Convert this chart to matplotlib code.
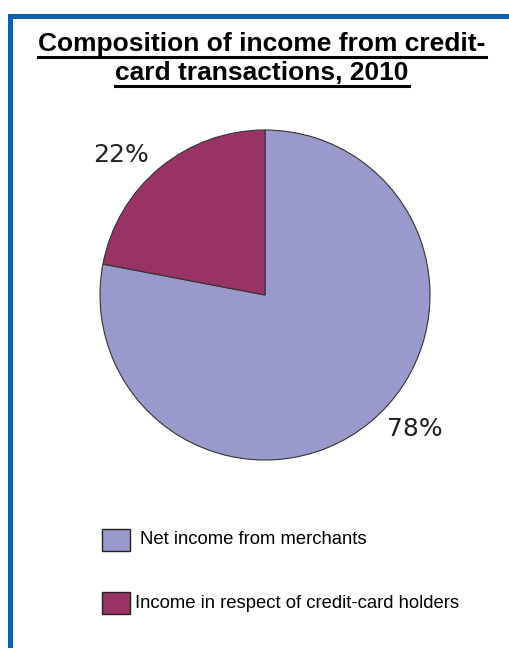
import matplotlib
matplotlib.use("Agg")
import matplotlib.pyplot as plt
from matplotlib.patches import Rectangle
from matplotlib.lines import Line2D
import numpy as np

categories = ["Net income from merchants", "Income in respect of credit-card holders"]
values = [78, 22]
pct_labels = ["78%", "22%"]
colors = ["#9999CC", "#993366"]
title_lines = ["Composition of income from credit-", "card transactions, 2010"]

W, H = 509, 648
fig = plt.figure(figsize=(W / 100, H / 100), dpi=100)
fig.patch.set_facecolor("white")

def fx(px):
    return px / W

def fy(py):
    return 1 - py / H

# blue frame (top and left)
blue = "#1060B0"
fig.add_artist(Rectangle((fx(8), fy(19)), 1 - fx(8), fy(14) - fy(19), transform=fig.transFigure,
                         facecolor=blue, edgecolor="none"))
fig.add_artist(Rectangle((fx(8), 0), fx(5), fy(14), transform=fig.transFigure,
                         facecolor=blue, edgecolor="none"))

# pie
ax = fig.add_axes([fx(100), fy(460), fx(330), 330 / H])
wedges, _ = ax.pie(values, colors=colors, startangle=90, counterclock=False,
                   wedgeprops=dict(edgecolor="#333333", linewidth=0.8))
ax.set_xlim(-1, 1)
ax.set_ylim(-1, 1)
ax.set_aspect("equal")
ax.axis("off")
label_angles = [-41.8, 135.8]
for txt, ang in zip(pct_labels, label_angles):
    r = 1.217
    ax.text(r * np.cos(np.radians(ang)), r * np.sin(np.radians(ang)), txt,
            ha="center", va="center", fontsize=18, family="DejaVu Sans", color="#222222",
            clip_on=False)

# title with underline
title_y = [44, 73]
texts = []
for line, y in zip(title_lines, title_y):
    t = fig.text(fx(262), fy(y), line, ha="center", va="center", fontsize=19,
                 fontweight="bold", family="Liberation Sans", color="black")
    texts.append(t)
fig.canvas.draw()
r = fig.canvas.get_renderer()
underline_y = [57, 86]
for t, uy in zip(texts, underline_y):
    bb = t.get_window_extent(renderer=r)
    fig.add_artist(Line2D([bb.x0 / W, bb.x1 / W], [fy(uy), fy(uy)], transform=fig.transFigure,
                          color="black", linewidth=2.2))

# legend
leg_y = [540, 603]
leg_text_x = [140, 135]
for cat, col, y, tx in zip(categories, colors, leg_y, leg_text_x):
    fig.add_artist(Rectangle((fx(102), fy(y + 11)), fx(28), 22 / H, transform=fig.transFigure,
                             facecolor=col, edgecolor="#222222", linewidth=1.0))
    fig.text(fx(tx), fy(y), cat, ha="left", va="center", fontsize=13.3,
             family="Liberation Sans", color="black")

fig.savefig("out.png", dpi=100, facecolor="white")
